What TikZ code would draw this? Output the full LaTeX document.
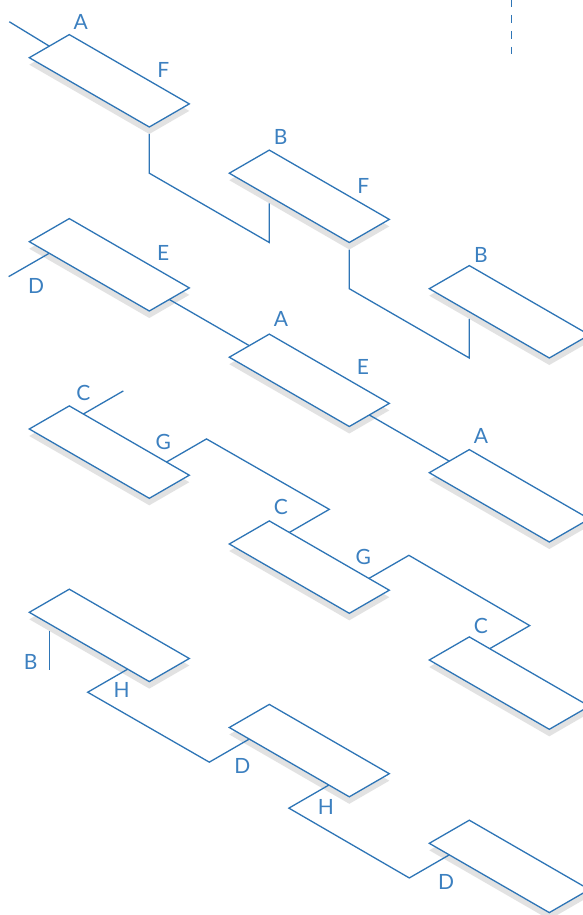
\documentclass[tikz,border=0pt]{standalone}
\usepackage{fontspec}
\setmainfont{Lato}
\usetikzlibrary{calc}
\definecolor{lineblue}{RGB}{46,117,182}
\definecolor{labelblue}{RGB}{60,128,192}
\definecolor{shadowc}{RGB}{226,226,226}
\tikzset{
  boxline/.style={draw=lineblue, line width=1.3pt, line join=miter, fill=white},
  conn/.style={draw=lineblue, line width=1.3pt, line join=miter},
  lbl/.style={text=labelblue, font=\fontsize{21}{23}\selectfont, inner sep=0pt, anchor=center}
}
\newcommand\mkisobox[3]{%
  \coordinate (#1L) at (#2,#3);
  \coordinate (#1T) at ($(#1L)+(40,-23.1)$);
  \coordinate (#1R) at ($(#1L)+(160,46.2)$);
  \coordinate (#1B) at ($(#1L)+(120,69.3)$);
  \fill[shadowc] ([yshift=-7pt]#1L)--([yshift=-7pt]#1T)--([yshift=-7pt]#1R)--([yshift=-7pt]#1B)--cycle;
  \draw[boxline] (#1L)--(#1T)--(#1R)--(#1B)--cycle;
}
\begin{document}
\begin{tikzpicture}[x=1pt,y=-1pt]
\useasboundingbox (0,0) rectangle (583,915);
\clip (0,0) rectangle (583,915);
\fill[white] (0,0) rectangle (583,915);

% boxes
\mkisobox{b1}{29.3}{57.7}
\mkisobox{b2}{229.3}{173.2}
\mkisobox{b3}{429.3}{288.7}
\mkisobox{b4}{29.3}{241.7}
\mkisobox{b5}{229.3}{357.2}
\mkisobox{b6}{429.3}{472.7}
\mkisobox{b7}{29.3}{429}
\mkisobox{b8}{229.3}{544}
\mkisobox{b9}{429.3}{660}
\mkisobox{b10}{29.3}{612.3}
\mkisobox{b11}{229.3}{727.5}
\mkisobox{b12}{429.3}{843.3}

% connectors row 1
\coordinate (p1A) at ($(b1L)!0.5!(b1T)$);
\coordinate (s1A) at ($(p1A)+(-40,-24.4)$);
\draw[conn] (p1A) -- (s1A);

\coordinate (p1o) at ([yshift=-7pt]b1B);
\coordinate (k12a) at (b1B |- b2L);
\coordinate (k12b) at ($(k12a)+(120,69.3)$);
\coordinate (p2i) at ($(b2L)!1/3!(b2B)+(0,7)$);
\draw[conn] (p1o) -- (k12a) -- (k12b) -- (p2i);

\coordinate (p2o) at ([yshift=-7pt]b2B);
\coordinate (k23a) at (b2B |- b3L);
\coordinate (k23b) at ($(k23a)+(120,69.3)$);
\coordinate (p3i) at ($(b3L)!1/3!(b3B)+(0,7)$);
\draw[conn] (p2o) -- (k23a) -- (k23b) -- (p3i);

% connectors row 2
\coordinate (p4D) at ($(b4L)!1/6!(b4B)$);
\coordinate (s4D) at ($(p4D)+(-40.7,23.4)$);
\draw[conn] (p4D) -- (s4D);

\coordinate (p4E) at ($(b4B)!0.5!(b4R)$);
\coordinate (p5A) at ($(b5L)!0.5!(b5T)$);
\draw[conn] (p4E) -- (p5A);

\coordinate (p5E) at ($(b5B)!0.5!(b5R)$);
\coordinate (p6A) at ($(b6L)!0.5!(b6T)$);
\draw[conn] (p5E) -- (p6A);

% connectors row 3
\coordinate (p7C) at ($(b7T)!0.117!(b7R)$);
\coordinate (s7C) at ($(p7C)+(40,-23.1)$);
\draw[conn] (p7C) -- (s7C);

\coordinate (p7G) at ($(b7T)!0.81!(b7R)$);
\coordinate (k78a) at ($(p7G)+(40,-23.1)$);
\coordinate (p8C) at ($(b8T)!1/6!(b8R)$);
\coordinate (k78b) at ($(p8C)+(40,-23.1)$);
\draw[conn] (p7G) -- (k78a) -- (k78b) -- (p8C);

\coordinate (p8G) at ($(b8T)!0.83!(b8R)$);
\coordinate (k89a) at ($(p8G)+(40,-23.1)$);
\coordinate (p9C) at ($(b9T)!0.17!(b9R)$);
\coordinate (k89b) at ($(p9C)+(40,-23.1)$);
\draw[conn] (p8G) -- (k89a) -- (k89b) -- (p9C);

% connectors row 4
\coordinate (p10B) at ($(b10L)!1/6!(b10B)+(0,7)$);
\coordinate (s10B) at ($(p10B)+(0,39)$);
\draw[conn] (p10B) -- (s10B);

\coordinate (p10H) at ($(b10L)!0.82!(b10B)$);
\coordinate (k1011a) at ($(p10H)+(-40,23.1)$);
\coordinate (p11D) at ($(b11L)!1/6!(b11B)$);
\coordinate (k1011b) at ($(p11D)+(-40,23.1)$);
\draw[conn] (p10H) -- (k1011a) -- (k1011b) -- (p11D);

\coordinate (p11H) at ($(b11L)!0.83!(b11B)$);
\coordinate (k1112a) at ($(p11H)+(-40,23.1)$);
\coordinate (p12D) at ($(b12L)!1/6!(b12B)$);
\coordinate (k1112b) at ($(p12D)+(-40,23.1)$);
\draw[conn] (p11H) -- (k1112a) -- (k1112b) -- (p12D);

% dashed line
\coordinate (d1) at (511.7,-1);
\coordinate (d2) at (511.7,54);
\draw[conn, dash pattern=on 8pt off 8pt] (d1) -- (d2);

% labels
\node[lbl] (l1A) at (80.7,21.7) {A};
\node[lbl] (l1F) at (163.3,70) {F};
\node[lbl] (l2B) at (280.7,136.7) {B};
\node[lbl] (l2F) at (363.3,186) {F};
\node[lbl] (l3B) at (481,255) {B};
\node[lbl] (l4E) at (163.3,252.7) {E};
\node[lbl] (l4D) at (36,286) {D};
\node[lbl] (l5A) at (281,319) {A};
\node[lbl] (l5E) at (363,367) {E};
\node[lbl] (l6A) at (481,436) {A};
\node[lbl] (l7C) at (83.3,393.3) {C};
\node[lbl] (l7G) at (163.3,441.7) {G};
\node[lbl] (l8C) at (281,507.3) {C};
\node[lbl] (l8G) at (363.3,556.7) {G};
\node[lbl] (l9C) at (481,625.7) {C};
\node[lbl] (l10B) at (30.7,661.7) {B};
\node[lbl] (l10H) at (121.7,690) {H};
\node[lbl] (l11D) at (242.3,765.7) {D};
\node[lbl] (l11H) at (326,806.7) {H};
\node[lbl] (l12D) at (446,881.7) {D};
\end{tikzpicture}
\end{document}
